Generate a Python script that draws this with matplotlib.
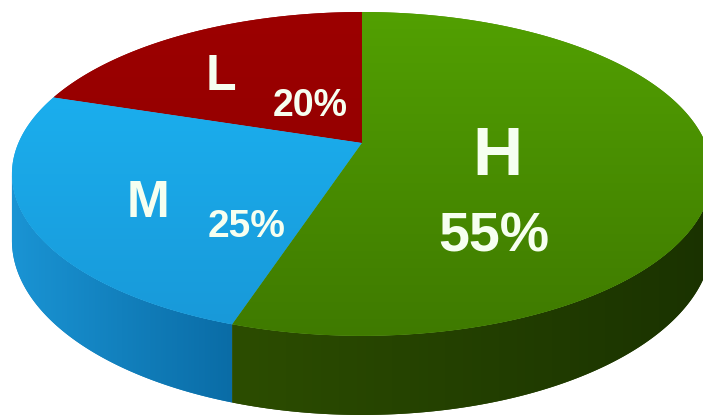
import numpy as np
import matplotlib
matplotlib.use("Agg")
import matplotlib.pyplot as plt
from matplotlib.patches import Polygon
from matplotlib.colors import to_rgb

# Slice data (counter-clockwise from the top)
categories = ["L", "M", "H"]
shares = [20, 25, 55]
pct_labels = ["20%", "25%", "55%"]

# Colours: top face (upper / lower tone) and side wall (left / right tone)
top_hi = ["#9c0000", "#1cb6f5", "#52a002"]
top_lo = ["#8d0000", "#1898d8", "#3f7a00"]
side_hi = ["#700000", "#1a94d4", "#2c4d00"]
side_lo = ["#600000", "#0a6ca6", "#1a3200"]

W, H = 703, 418
fig = plt.figure(figsize=(W / 100, H / 100), dpi=100)
ax = fig.add_axes([0, 0, 1, 1])
ax.set_xlim(0, W)
ax.set_ylim(H, 0)
ax.axis("off")

# Perspective view of a flat disk
X0, Y0 = 362.0, 143.0   # screen position of the pie centre
A, B = 343.6, 156.0     # horizontal / depth radii
K = 0.191               # perspective strength
DEPTH = 64.0            # thickness of the disk

# visible part of the rim lies between the two silhouette angles
SIL_L = 180.0 + np.degrees(np.arcsin(K))
SIL_R = 360.0 - np.degrees(np.arcsin(K))


def proj(theta_deg, z=0.0):
    t = np.radians(theta_deg)
    u, v = np.cos(t), np.sin(t)
    w = 1.0 + K * v
    return X0 + A * u / w, Y0 - B * v / w + DEPTH * z / w


start = 90.0
bounds = []
for s in shares:
    end = start + 360.0 * s / sum(shares)
    bounds.append((start, end))
    start = end


def gradient_fill(patch, c_from, c_to, lo, hi, axis, z):
    """Paint a linear colour ramp clipped to a patch."""
    n = W if axis == "x" else H
    coord = np.arange(n) + 0.5
    t = np.clip((coord - lo) / max(hi - lo, 1e-6), 0, 1)
    c1, c2 = np.array(to_rgb(c_from)), np.array(to_rgb(c_to))
    ramp = c1[None, :] + (c2 - c1)[None, :] * t[:, None]
    img = ramp[None, :, :] if axis == "x" else ramp[:, None, :]
    im = ax.imshow(img, extent=(0, W, H, 0), aspect="auto", zorder=z,
                   interpolation="bilinear")
    im.set_clip_path(patch)


# Side wall of the disk (front half only)
for i, (a0, a1) in enumerate(bounds):
    for rot in (0.0, 360.0):
        lo, hi = max(a0, SIL_L + rot), min(a1, SIL_R + rot)
        if hi <= lo:
            continue
        angs = np.linspace(lo, hi, 200)
        xt, yt = proj(angs)
        xb, yb = proj(angs[::-1], 1.0)
        pts = list(zip(xt, yt)) + list(zip(xb, yb))
        col = tuple((np.array(to_rgb(side_hi[i])) + np.array(to_rgb(side_lo[i]))) / 2)
        side = Polygon(pts, closed=True, facecolor=col, edgecolor="none", zorder=2)
        ax.add_patch(side)
        gradient_fill(side, side_hi[i], side_lo[i], xt.min(), xt.max(), "x", 2.5)

# Top faces with a soft vertical gradient
for i, (a0, a1) in enumerate(bounds):
    angs = np.linspace(a0, a1, 240)
    xs, ys = proj(angs)
    pts = [(X0, Y0)] + list(zip(xs, ys))
    col = tuple((np.array(to_rgb(top_hi[i])) + np.array(to_rgb(top_lo[i]))) / 2)
    face = Polygon(pts, closed=True, facecolor=col, edgecolor="none", zorder=3)
    ax.add_patch(face)
    gradient_fill(face, top_hi[i], top_lo[i], 12, 336, "y", 4)

ax.set_xlim(0, W)
ax.set_ylim(H, 0)

# Labels
font = ["Liberation Sans Narrow", "Liberation Sans", "DejaVu Sans"]
txt_col = "#f6fff0"
name_xy = [(221, 90), (147.5, 217), (497.5, 175)]
name_size = [36, 37, 50]
pct_xy = [(310, 116), (246.5, 237), (494, 252)]
pct_size = [27, 28, 40]
for i in range(len(categories)):
    ax.text(*name_xy[i], categories[i], ha="center", va="baseline",
            fontsize=name_size[i], fontweight="bold", family=font,
            color=txt_col, zorder=6)
    ax.text(*pct_xy[i], pct_labels[i], ha="center", va="baseline",
            fontsize=pct_size[i], fontweight="bold", family=font,
            color=txt_col, zorder=6)

fig.savefig("out.png", dpi=100)
